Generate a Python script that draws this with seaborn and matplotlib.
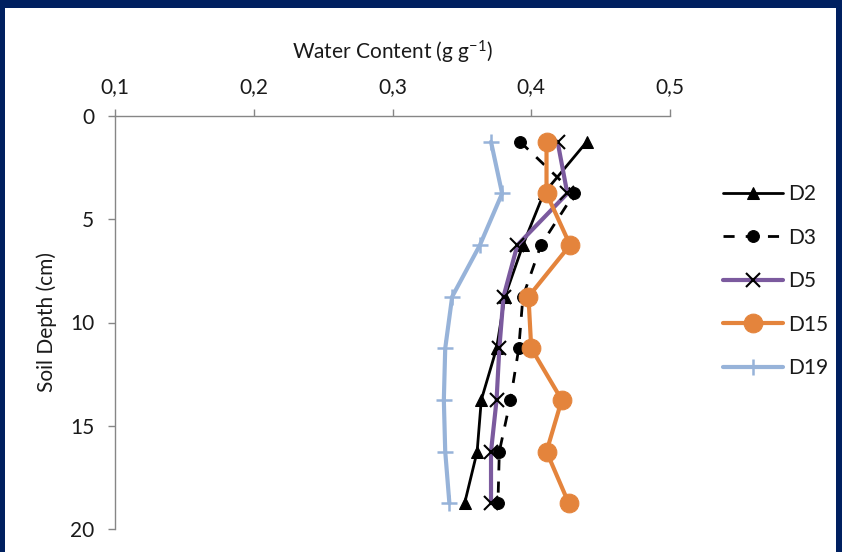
import matplotlib
matplotlib.use("Agg")
import matplotlib.pyplot as plt
from matplotlib.patches import Rectangle
import seaborn as sns
import pandas as pd

# Soil depth of each sampling layer (cm)
depth = [1.25, 3.75, 6.25, 8.75, 11.25, 13.75, 16.25, 18.75]

# Gravimetric water content (g g-1) per sampling day
d2 = [0.440, 0.409, 0.394, 0.381, 0.375, 0.364, 0.361, 0.352]
d3 = [0.392, 0.431, 0.407, 0.394, 0.391, 0.385, 0.377, 0.376]
d5 = [0.419, 0.426, 0.390, 0.380, 0.377, 0.375, 0.371, 0.371]
d15 = [0.411, 0.411, 0.428, 0.398, 0.400, 0.422, 0.411, 0.427]
d19 = [0.371, 0.379, 0.363, 0.343, 0.338, 0.337, 0.338, 0.341]

series_names = ["D2", "D3", "D5", "D15", "D19"]
series_values = [d2, d3, d5, d15, d19]

x_ticks = [0.1, 0.2, 0.3, 0.4, 0.5]
x_tick_labels = ["0,1", "0,2", "0,3", "0,4", "0,5"]
y_ticks = [0, 5, 10, 15, 20]

sns.set_theme(style="white")
plt.rcParams["font.family"] = ["Lato", "DejaVu Sans"]
plt.rcParams["mathtext.fontset"] = "custom"
plt.rcParams["mathtext.rm"] = "Lato"
plt.rcParams["mathtext.default"] = "regular"

text_color = "#1a1a1a"
fs = 15

styles = {
    "D2": dict(color="black", lw=2.0, marker="^", markersize=9,
               markeredgecolor="black", linestyle="-"),
    "D3": dict(color="black", lw=2.0, marker="o", markersize=8.5,
               markeredgecolor="black", linestyle=(0, (4.0, 4.0))),
    "D5": dict(color="#7B5A9E", lw=3.0, marker="x", markersize=10,
               markeredgecolor="black", markeredgewidth=1.5, linestyle="-"),
    "D15": dict(color="#E4843C", lw=3.0, marker="o", markersize=13.5,
                markeredgecolor="#E4843C", linestyle="-"),
    "D19": dict(color="#97B3D9", lw=3.0, marker="+", markersize=12,
                markeredgecolor="#97B3D9", markeredgewidth=1.8, linestyle="-"),
}

fig = plt.figure(figsize=(8.42, 5.52), dpi=100)
fig.patch.set_facecolor("white")
ax = fig.add_axes([115 / 842, 1 - 529 / 552, 555 / 842, 413 / 552])

for name, vals in zip(series_names, series_values):
    df = pd.DataFrame({"water": vals, "depth": depth})
    sns.lineplot(data=df, x="water", y="depth", ax=ax, sort=False, estimator=None,
                 label=name, **styles[name])

ax.set_xlim(0.1, 0.5)
ax.set_ylim(20, 0)
ax.xaxis.tick_top()
ax.xaxis.set_label_position("top")
ax.set_xticks(x_ticks)
ax.set_xticklabels(x_tick_labels)
ax.set_yticks(y_ticks)
ax.set_xlabel("Water Content (g g$^{-1}$)", fontsize=fs, color=text_color, labelpad=13)
ax.set_ylabel("Soil Depth (cm)", fontsize=fs, color=text_color, labelpad=9)

for side in ["right", "bottom"]:
    ax.spines[side].set_visible(False)
for side in ["top", "left"]:
    ax.spines[side].set_color("#868686")
    ax.spines[side].set_linewidth(1.0)

ax.tick_params(axis="x", which="both", top=True, bottom=False, direction="out",
               length=5, width=1, color="#868686", pad=8.5, labelsize=fs, labelcolor=text_color)
ax.tick_params(axis="y", which="both", left=True, direction="out",
               length=5, width=1, color="#868686", pad=10, labelsize=fs, labelcolor=text_color)
ax.grid(False)

ax.legend(loc="upper left", bbox_to_anchor=(723 / 842, 1 - 184 / 552),
          bbox_transform=fig.transFigure, frameon=False, fontsize=fs,
          handlelength=2.9, handletextpad=0.25, labelspacing=1.13,
          borderpad=0, borderaxespad=0, labelcolor=text_color)

# Dark frame around the slide area
navy = "#002060"
fig.add_artist(Rectangle((0, 1 - 8 / 552), 1, 8 / 552, transform=fig.transFigure,
                         facecolor=navy, edgecolor="none", zorder=10))
fig.add_artist(Rectangle((0, 0), 5 / 842, 1, transform=fig.transFigure,
                         facecolor=navy, edgecolor="none", zorder=10))
fig.add_artist(Rectangle((1 - 6 / 842, 0), 6 / 842, 1, transform=fig.transFigure,
                         facecolor=navy, edgecolor="none", zorder=10))

fig.savefig("out.png", dpi=100, facecolor=fig.get_facecolor())
